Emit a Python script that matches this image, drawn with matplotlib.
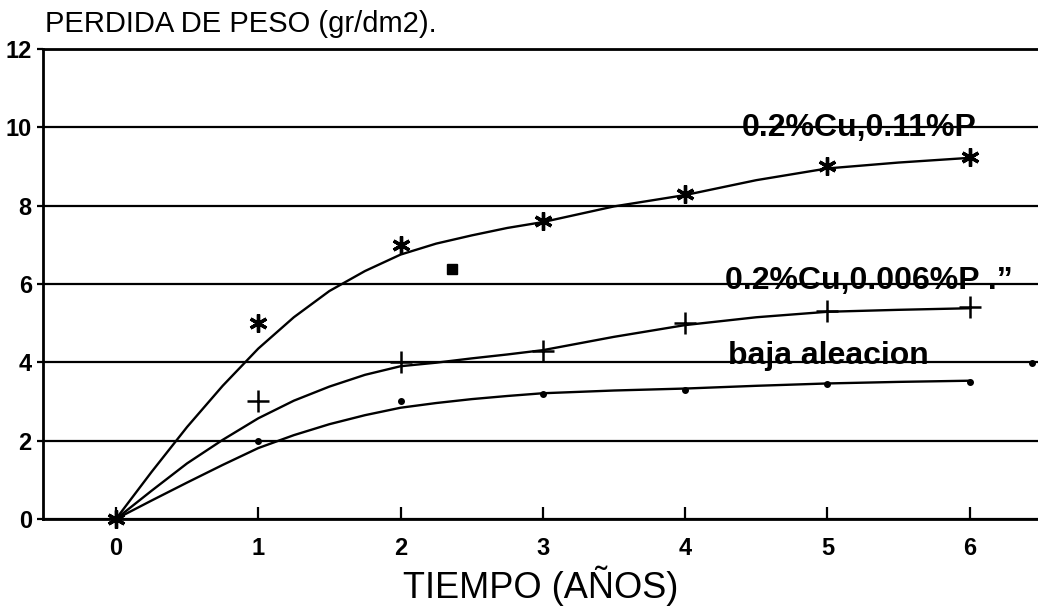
import matplotlib
matplotlib.use("Agg")
import matplotlib.pyplot as plt

plt.rcParams['font.family'] = ['Liberation Sans', 'DejaVu Sans']

# años de exposicion y perdida de peso medida (gr/dm2)
anios = [0, 1, 2, 3, 4, 5, 6]
perdida_cu_p011 = [0, 5.0, 7.0, 7.6, 8.3, 9.0, 9.25]
perdida_cu_p0006 = [0, 3.0, 4.0, 4.3, 5.0, 5.3, 5.4]
perdida_baja = [0, 2.0, 3.0, 3.2, 3.3, 3.45, 3.5]

# curvas ajustadas
x_curva = [0, 0.25, 0.5, 0.75, 1.0, 1.25, 1.5, 1.75, 2.0, 2.25, 2.5, 2.75,
           3.0, 3.5, 4.0, 4.5, 5.0, 5.5, 6.0]
curva_cu_p011 = [0, 1.2, 2.35, 3.4, 4.35, 5.15, 5.82, 6.33, 6.75, 7.03, 7.24,
                 7.43, 7.58, 7.98, 8.27, 8.65, 8.95, 9.1, 9.22]
curva_cu_p0006 = [0, 0.72, 1.42, 2.02, 2.57, 3.02, 3.38, 3.68, 3.9, 3.99, 4.1,
                  4.2, 4.31, 4.65, 4.95, 5.15, 5.29, 5.34, 5.38]
curva_baja = [0, 0.47, 0.93, 1.38, 1.81, 2.14, 2.42, 2.65, 2.84, 2.96, 3.06,
              3.14, 3.21, 3.28, 3.33, 3.4, 3.46, 3.5, 3.53]

# marcas sueltas
mancha_x, mancha_y = [2.36], [6.38]
punto_extra_x, punto_extra_y = [6.44], [3.98]

etiquetas = ["0.2%Cu,0.11%P", "0.2%Cu,0.006%P .\u201d", "baja aleacion"]
etiq_x = [4.40, 4.28, 4.30]
etiq_y = [9.77, 5.86, 3.95]

fig = plt.figure(figsize=(10.38, 6.12), dpi=100)
ax = fig.add_axes([0.0414, 0.152, 0.9586, 0.768])

for yc in (curva_cu_p011, curva_cu_p0006, curva_baja):
    ax.plot(x_curva, yc, color="black", lw=1.7, solid_joinstyle="round")

ax.plot(anios, perdida_cu_p011, ls="none", marker=(6, 2, 0), ms=13,
        mew=2.4, color="black", clip_on=False, zorder=4)
ax.plot(anios[1:], perdida_cu_p0006[1:], ls="none", marker="+", ms=16,
        mew=1.8, color="black", zorder=4)
ax.plot(anios[1:], perdida_baja[1:], ls="none", marker="o", ms=4,
        color="black", zorder=4)
ax.plot(mancha_x, mancha_y, ls="none", marker="s", ms=7, color="black")
ax.plot(punto_extra_x, punto_extra_y, ls="none", marker="o", ms=4,
        color="black", clip_on=False)

for t, x, y in zip(etiquetas, etiq_x, etiq_y):
    ax.text(x, y, t, fontsize=23, fontweight="bold", va="baseline",
            ha="left", zorder=5)

ax.set_xlim(-0.513, 6.48)
ax.set_ylim(0, 12)
ax.set_xticks(anios)
ax.set_yticks(range(0, 13, 2))
ax.grid(axis="y", color="black", lw=1.6)
ax.set_axisbelow(True)

ax.spines["right"].set_visible(False)
for s in ["left", "bottom", "top"]:
    ax.spines[s].set_linewidth(2.0)

ax.tick_params(axis="x", direction="in", length=9, width=1.6, pad=13,
               labelsize=17)
ax.tick_params(axis="y", direction="out", length=4, width=1.6, pad=4,
               labelsize=17)
for lab in ax.get_xticklabels() + ax.get_yticklabels():
    lab.set_fontweight("bold")

ax.set_xlabel("TIEMPO (AÑOS)", fontsize=26, labelpad=4)
fig.text(0.043, 1 - 24 / 612, "PERDIDA DE PESO (gr/dm2).", fontsize=21,
         va="center", ha="left")

fig.savefig("out.png", dpi=100)
